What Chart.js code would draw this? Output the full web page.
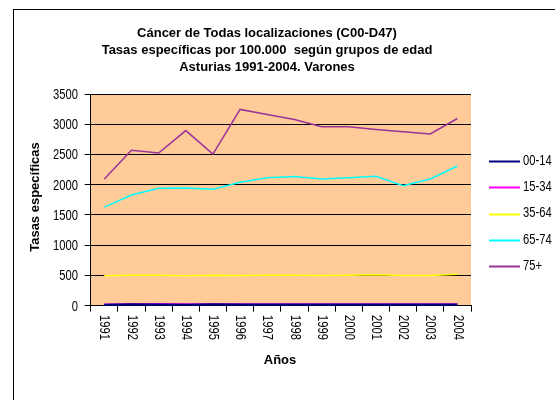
<!DOCTYPE html>
<html>
<head>
<meta charset="utf-8">
<script src="https://cdn.jsdelivr.net/npm/chart.js@4/dist/chart.umd.min.js"></script>
<style>
  body { margin: 0; background: #fff; }
  canvas { display: block; }
</style>
</head>
<body>
<canvas id="myChart" width="555" height="400"></canvas>
<script>
// Tasas especificas por 100.000, Asturias 1991-2004, varones
const years = ['1991','1992','1993','1994','1995','1996','1997','1998','1999','2000','2001','2002','2003','2004'];
const grupos = ['00-14', '15-34', '35-64', '65-74', '75+'];
const g0014 = [10, 20, 16, 12, 18, 17, 17, 16, 17, 16, 17, 16, 17, 17];
const g1534 = [25, 30, 33, 28, 30, 30, 30, 30, 30, 30, 30, 30, 30, 30];
const g3564 = [497, 505, 502, 497, 504, 500, 502, 503, 498, 505, 510, 500, 498, 520];
const g6574 = [1630, 1830, 1940, 1945, 1925, 2040, 2115, 2135, 2095, 2115, 2140, 1985, 2095, 2310];
const g75 = [2095, 2570, 2525, 2895, 2505, 3245, 3160, 3080, 2960, 2960, 2915, 2875, 2840, 3095];
const yTicks = [0, 500, 1000, 1500, 2000, 2500, 3000, 3500];
const colores = ['#000080', '#ff00ff', '#ffff00', '#00ffff', '#993399'];

const titulo = ['Cáncer de Todas localizaciones (C00-D47)', 'Tasas específicas por 100.000  según grupos de edad', 'Asturias 1991-2004. Varones'];
const fuente = "'Liberation Sans', Arial, sans-serif";

// texto estrecho (como Arial Narrow): se comprime en horizontal
function textoEstrecho(ctx, txt, x, y, align) {
  ctx.save();
  ctx.translate(x, y);
  ctx.scale(0.8, 1);
  ctx.textAlign = align;
  ctx.fillText(txt, 0, 0);
  ctx.restore();
}

// dibuja fondo, titulos, etiquetas y leyenda
const extras = {
  id: 'extras',
  beforeDraw(chart) {
    const ctx = chart.ctx;
    const a = chart.chartArea;
    ctx.save();
    ctx.fillStyle = '#fff';
    ctx.fillRect(0, 0, chart.width, chart.height);
    ctx.fillStyle = '#ffcc99';
    ctx.fillRect(a.left, a.top, a.right - a.left, a.bottom - a.top);
    ctx.strokeStyle = '#000';
    ctx.lineWidth = 1;
    ctx.strokeRect(13.5, 9.5, 700, 500);
    ctx.restore();
  },
  afterDraw(chart) {
    const ctx = chart.ctx;
    const x = chart.scales.x;
    const y = chart.scales.y;
    ctx.save();
    ctx.fillStyle = '#000';
    ctx.textBaseline = 'middle';
    // titulo
    ctx.font = 'bold 13px ' + fuente;
    ctx.textAlign = 'center';
    titulo.forEach((t, i) => ctx.fillText(t, 267, 33 + i * 17));
    // titulos de ejes
    ctx.fillText('Años', 280, 360);
    ctx.save();
    ctx.translate(35, 197);
    ctx.rotate(-Math.PI / 2);
    ctx.fillText('Tasas específicas', 0, 0);
    ctx.restore();
    // valores eje y
    ctx.font = '14px ' + fuente;
    yTicks.forEach(v => textoEstrecho(ctx, String(v), 78, y.getPixelForValue(v) + 1, 'right'));
    // años girados
    years.forEach((yr, i) => {
      ctx.save();
      ctx.translate(x.getPixelForValue(i), 315);
      ctx.rotate(Math.PI / 2);
      textoEstrecho(ctx, yr, 0, 0, 'left');
      ctx.restore();
    });
    // leyenda
    chart.data.datasets.forEach((ds, i) => {
      const ly = 161 + i * 26.3;
      ctx.strokeStyle = ds.borderColor;
      ctx.lineWidth = 2;
      ctx.beginPath();
      ctx.moveTo(489, Math.round(ly) + 0.5);
      ctx.lineTo(520, Math.round(ly) + 0.5);
      ctx.stroke();
      textoEstrecho(ctx, ds.label, 523, ly, 'left');
    });
    ctx.restore();
  }
};

const series = [g0014, g1534, g3564, g6574, g75];
const ctx = document.getElementById('myChart').getContext('2d');
const myChart = new Chart(ctx, {
  type: 'line',
  data: {
    labels: years,
    datasets: series.map((s, i) => ({
      label: grupos[i],
      data: s,
      borderColor: colores[i],
      backgroundColor: colores[i],
      borderWidth: i == 0 ? 2.5 : 1.5,
      pointRadius: 0,
      tension: 0
    }))
  },
  options: {
    responsive: false,
    animation: false,
    events: [],
    layout: { padding: { top: 94, right: 84, bottom: 0, left: 0 } },
    plugins: { legend: { display: false }, title: { display: false }, tooltip: { enabled: false } },
    scales: {
      x: {
        offset: true,
        grid: { offset: true, drawOnChartArea: false, tickLength: 6, color: '#000' },
        border: { color: '#000', width: 1 },
        ticks: { display: false },
        afterFit(scale) { scale.height = 94.3; }
      },
      y: {
        min: 0,
        max: 3500,
        afterBuildTicks(scale) { scale.ticks = yTicks.map(v => ({ value: v })); },
        grid: { color: '#000', tickLength: 6, lineWidth: 1 },
        border: { color: '#000', width: 1 },
        ticks: { display: false },
        afterFit(scale) { scale.width = 90.7; }
      }
    }
  },
  plugins: [extras]
});
</script>
</body>
</html>
